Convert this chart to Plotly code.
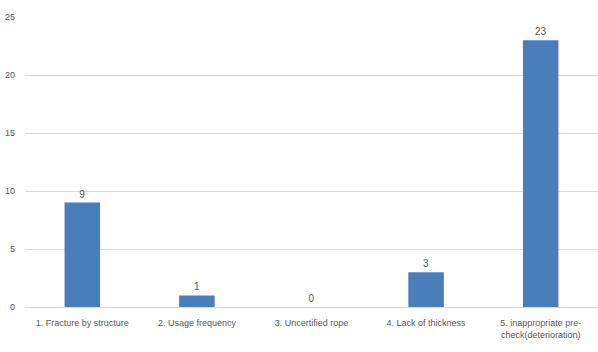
import plotly.graph_objects as go

categories = [
    "1. Fracture by structure",
    "2. Usage frequency",
    "3. Uncertified rope",
    "4. Lack of thickness",
    "5. inappropriate pre-<br>check(deterioration)",
]
counts = [9, 1, 0, 3, 23]
y_ticks = [0, 5, 10, 15, 20, 25]

font_family = "Liberation Sans, Arial, sans-serif"
text_color = "#595959"

fig = go.Figure(
    go.Bar(
        x=categories,
        y=counts,
        marker=dict(color="#4a7ebb", line=dict(width=0)),
        width=0.31,
        text=[str(v) for v in counts],
        textposition="outside",
        cliponaxis=False,
        textfont=dict(size=10, color=text_color, family=font_family),
    )
)

fig.update_layout(
    width=598,
    height=352,
    margin=dict(l=25, r=0, t=17, b=45),
    paper_bgcolor="white",
    plot_bgcolor="white",
    showlegend=False,
    bargap=0.69,
    font=dict(family=font_family, size=9, color=text_color),
)
fig.update_xaxes(
    showgrid=False,
    showline=False,
    ticks="",
    ticklabelstandoff=9,
    tickfont=dict(size=9, color=text_color),
    tickangle=0,
)
fig.update_yaxes(
    range=[0, 25],
    tickvals=y_ticks,
    showgrid=True,
    gridcolor="#d9d9d9",
    gridwidth=1,
    zeroline=True,
    zerolinecolor="#d9d9d9",
    zerolinewidth=1,
    showline=False,
    ticks="",
    ticklabelstandoff=9,
    tickfont=dict(size=9, color=text_color),
)

fig.write_html("out.html")
